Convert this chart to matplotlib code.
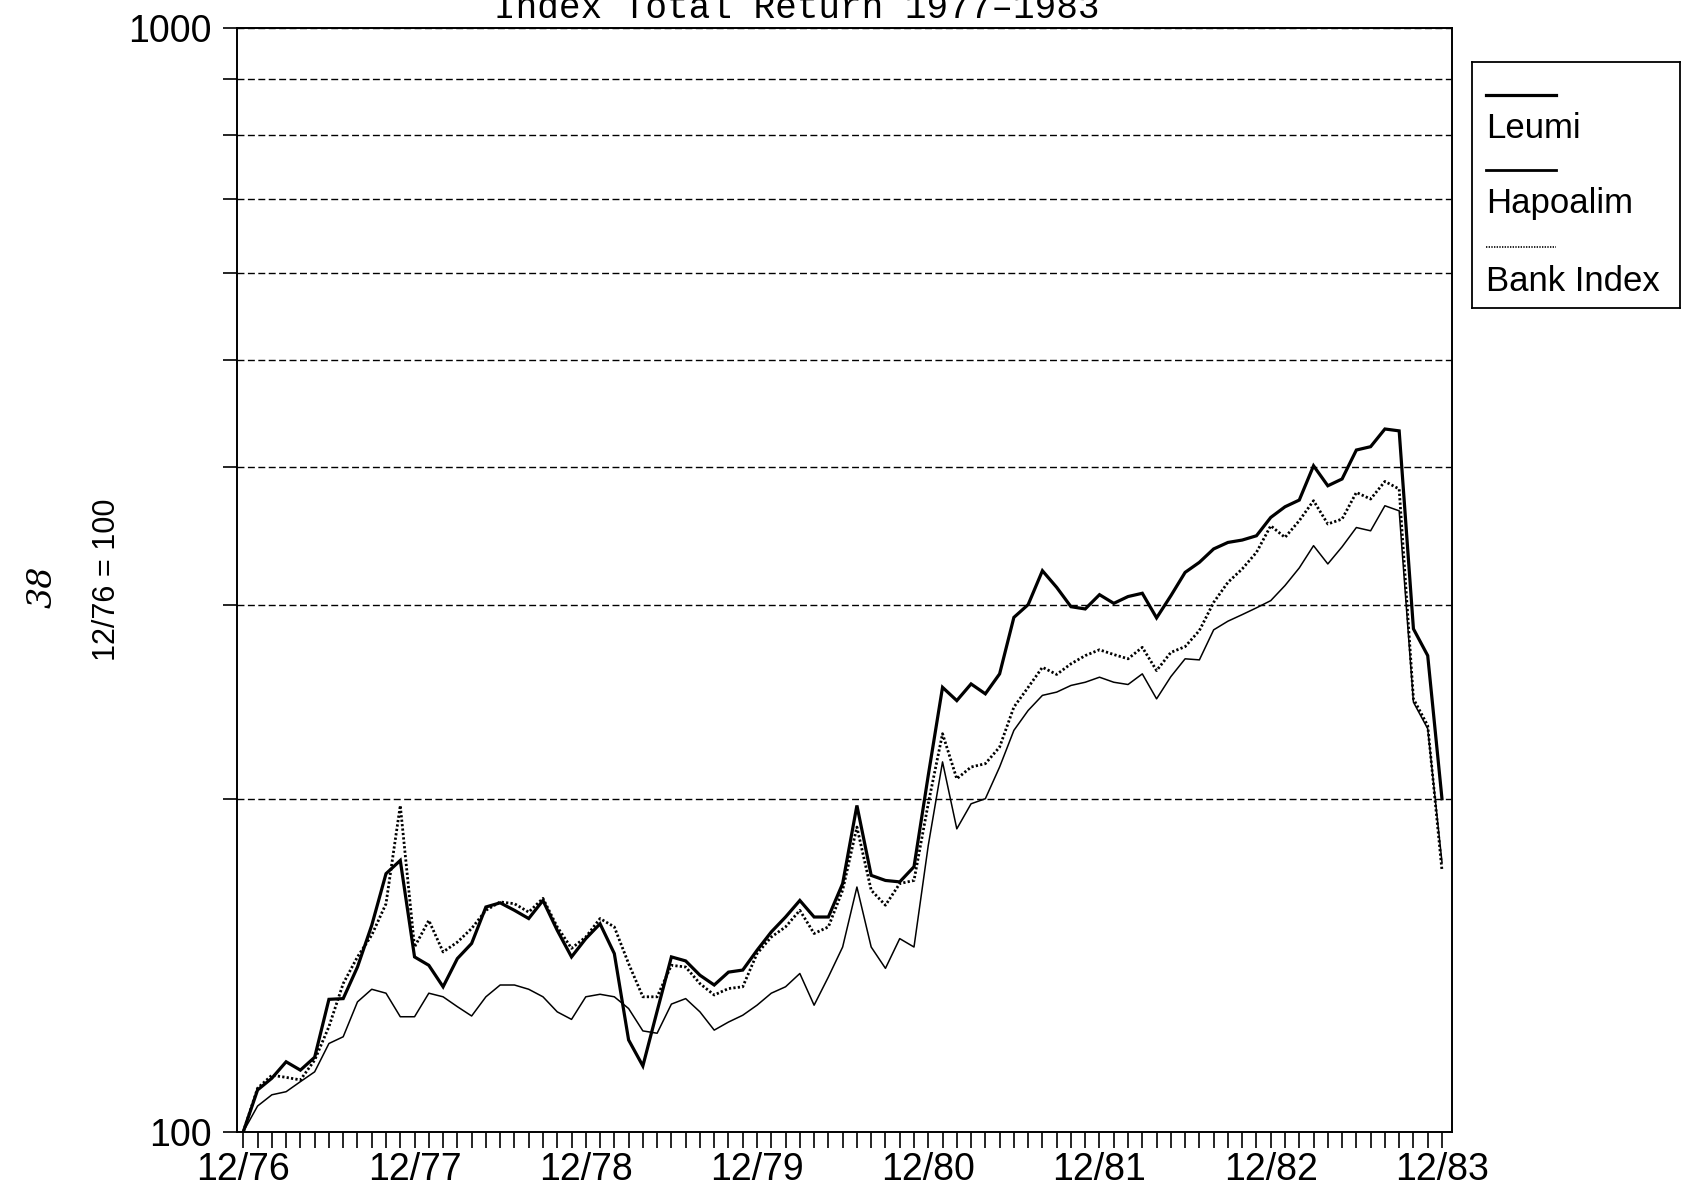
import matplotlib
matplotlib.use("Agg")
import matplotlib.pyplot as plt
import numpy as np

# monthly index values, 12/76 = 100
months = np.arange(85)
tick_months = [0, 12, 24, 36, 48, 60, 72, 84]
tick_labels = ['12/76', '12/77', '12/78', '12/79', '12/80', '12/81', '12/82', '12/83']

leumi = [100, 109.1, 111.8, 115.7, 113.7, 116.8, 131.8, 132.0, 141.0, 153.8,
         171.3, 176.1, 144.0, 141.5, 135.3, 143.5, 148.1, 159.8, 161.2, 158.7,
         156.0, 162.0, 152.2, 144.0, 149.6, 154.3, 145.0, 121.1, 114.7, 128.6,
         144.0, 142.8, 138.6, 135.8, 139.5, 140.1, 146.0, 151.7, 156.5, 162.0,
         156.5, 156.5, 167.8, 197.5, 170.7, 168.9, 168.4, 173.8, 210.3, 252.7,
         245.8, 254.5, 249.3, 259.9, 292.4, 300.3, 322.3, 311.3, 299.0, 297.6,
         306.6, 301.1, 305.4, 307.5, 292.1, 305.9, 321.2, 328.0, 337.3, 341.9,
         343.6, 346.7, 360.2, 368.3, 373.5, 401.2, 384.8, 390.3, 414.6, 417.5,
         433.2, 431.5, 285.5, 270.0, 200.3]

hapoalim = [100, 105.5, 108.0, 108.7, 111.0, 113.3, 120.2, 121.9, 131.1, 134.6,
            133.5, 127.1, 127.1, 133.5, 132.5, 129.8, 127.3, 132.5, 135.8, 135.8,
            134.6, 132.5, 128.4, 126.4, 132.5, 133.2, 132.5, 129.3, 123.4, 122.8,
            130.5, 132.0, 128.4, 123.6, 125.7, 127.5, 130.2, 133.5, 135.3, 139.1,
            130.2, 138.1, 147.0, 166.6, 147.0, 140.6, 149.6, 147.0, 181.7, 216.3,
            188.1, 198.2, 200.3, 214.0, 231.0, 240.8, 248.5, 250.2, 253.7, 255.4,
            258.1, 255.4, 254.2, 259.9, 246.7, 258.4, 268.2, 267.6, 284.9, 290.1,
            294.1, 298.3, 302.8, 312.5, 324.2, 339.6, 326.9, 338.8, 352.7, 350.3,
            369.1, 365.2, 245.0, 231.8, 175.5]

bank_index = [100, 109.5, 112.5, 112.0, 111.4, 116.1, 124.5, 136.2, 144.0, 150.7,
              160.9, 197.5, 147.0, 155.4, 145.5, 148.5, 152.8, 158.7, 161.5, 160.9,
              158.1, 162.7, 153.3, 146.6, 150.1, 156.0, 153.3, 142.0, 132.5, 132.5,
              141.5, 141.0, 136.2, 133.0, 134.8, 135.3, 145.0, 150.1, 153.3, 158.7,
              151.2, 153.3, 165.5, 188.8, 165.5, 160.4, 167.8, 168.9, 198.3, 229.4,
              208.8, 214.0, 215.5, 223.1, 242.5, 252.7, 263.5, 259.6, 265.4, 270.0,
              273.3, 270.6, 268.2, 274.7, 261.7, 271.8, 275.1, 284.5, 301.7, 314.6,
              323.5, 334.9, 354.0, 345.5, 357.8, 373.0, 355.3, 359.0, 379.5, 374.3,
              388.3, 382.2, 246.7, 233.3, 172.5]

y_ticks = [100, 200, 300, 400, 500, 600, 700, 800, 900, 1000]
y_labels = ['100', '', '', '', '', '', '', '', '', '1000']

plt.rcParams['font.family'] = ['Liberation Sans', 'DejaVu Sans']

fig = plt.figure(figsize=(16.85, 11.92), dpi=100)
ax = fig.add_axes([0.1405, 0.0506, 0.7212, 0.9259])

ax.plot(months, leumi, color='black', lw=2.3, solid_joinstyle='miter')
ax.plot(months, hapoalim, color='black', lw=1.1)
ax.plot(months, bank_index, color='black', lw=2.0, ls=(0, (0.8, 0.8)))

ax.set_yscale('log')
ax.set_ylim(100, 1000)
ax.set_xlim(-0.46, 84.7)
ax.set_yticks(y_ticks)
ax.set_yticklabels(y_labels)
ax.yaxis.set_minor_locator(matplotlib.ticker.NullLocator())
ax.set_xticks(tick_months)
ax.set_xticklabels(tick_labels)
ax.set_xticks(months, minor=True)

ax.grid(axis='y', which='major', color='black', lw=1.0, ls=(0, (5, 2.5)))
ax.tick_params(axis='y', direction='out', length=10, width=1.2, pad=8, labelsize=27)
ax.tick_params(axis='x', which='both', direction='out', length=11.5, width=1.2, pad=3, labelsize=27)
for s in ax.spines.values():
    s.set_linewidth(1.4)

# title cut off by the top edge, as in the scan
fig.text(0.473, 1 - 18 / 1192, 'Index Total Return 1977\u20131983', ha='center', va='baseline',
         family=['Liberation Mono', 'DejaVu Sans Mono'], fontsize=26)

fig.text(0.0635, 0.5134, '12/76 = 100', rotation=90, ha='center', va='center', fontsize=22)
fig.text(0.0255, 0.508, '38', rotation=90, ha='center', va='center', fontsize=24,
         family=['DejaVu Serif'], style='italic')

# legend box: sample line above each label
lg = fig.add_axes([0.8736, 0.7416, 0.1234, 0.2064])
lg.set_xlim(0, 1)
lg.set_ylim(0, 1)
lg.set_xticks([])
lg.set_yticks([])
for s in lg.spines.values():
    s.set_linewidth(1.3)
lg.plot([0.067, 0.404], [0.8675, 0.8675], color='black', lw=2.3)
lg.plot([0.067, 0.404], [0.562, 0.562], color='black', lw=2.0)
lg.plot([0.067, 0.404], [0.248, 0.248], color='black', lw=1.2, ls=(0, (0.8, 0.8)))
lg.text(0.067, 0.728, 'Leumi', ha='left', va='center', fontsize=25)
lg.text(0.067, 0.423, 'Hapoalim', ha='left', va='center', fontsize=25)
lg.text(0.067, 0.108, 'Bank Index', ha='left', va='center', fontsize=25)

fig.savefig('out.png', dpi=100)
